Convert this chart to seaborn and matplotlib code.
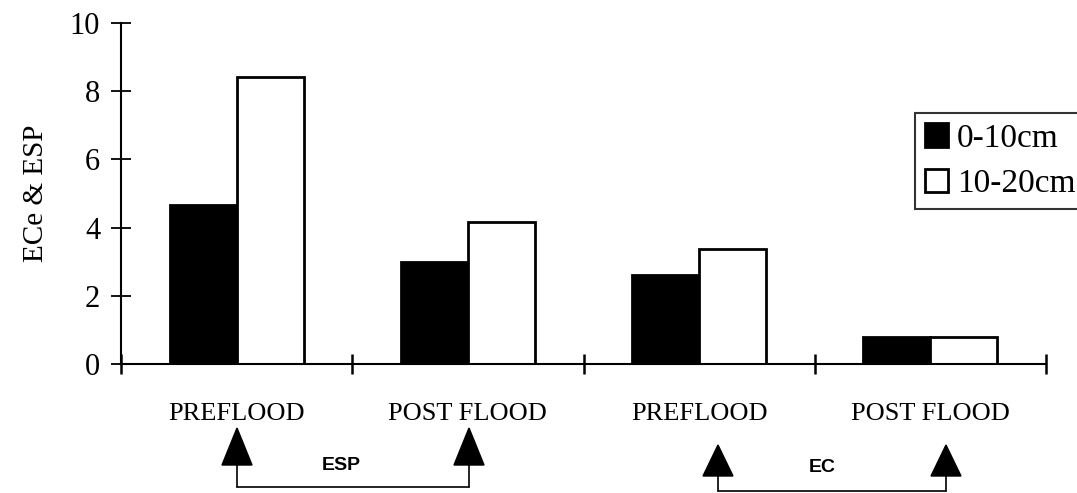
import matplotlib
matplotlib.use("Agg")
import matplotlib.pyplot as plt
import seaborn as sns
import pandas as pd
from matplotlib.patches import Polygon
from matplotlib.lines import Line2D

# ---- data ----
groups = ["ESP-PRE", "ESP-POST", "EC-PRE", "EC-POST"]
tick_labels = ["PREFLOOD", "POST FLOOD", "PREFLOOD", "POST FLOOD"]
depths = ["0-10cm", "10-20cm"]
vals_0_10 = [4.65, 3.0, 2.6, 0.78]
vals_10_20 = [8.42, 4.17, 3.37, 0.79]
y_ticks = [0, 2, 4, 6, 8, 10]

df = pd.DataFrame({
    "group": groups * 2,
    "depth": [depths[0]] * 4 + [depths[1]] * 4,
    "value": vals_0_10 + vals_10_20,
})

sns.set_theme(style="white")
plt.rcParams["font.family"] = ["Liberation Serif", "DejaVu Serif"]
plt.rcParams["text.color"] = "black"
plt.rcParams["axes.labelcolor"] = "black"
plt.rcParams["xtick.color"] = "black"
plt.rcParams["ytick.color"] = "black"

W, H = 1077, 493
fig = plt.figure(figsize=(W / 100, H / 100), dpi=100)
ax = fig.add_axes([121 / W, 1 - 364 / H, (1046 - 121) / W, (364 - 23) / H])

sns.barplot(data=df, x="group", y="value", hue="depth", order=groups,
            hue_order=depths, palette={"0-10cm": "black", "10-20cm": "white"},
            edgecolor="black", linewidth=2.0, width=0.58, ax=ax, saturation=1)

ax.set_xlim(-0.5, 3.5)
ax.set_ylim(0, 10)
ax.set_yticks(y_ticks)
ax.set_yticklabels([str(t) for t in y_ticks], fontsize=22)
ax.set_xticks(range(len(groups)))
ax.set_xticklabels(tick_labels, fontsize=19)
ax.set_xticks([-0.5, 0.5, 1.5, 2.5, 3.5], minor=True)
ax.tick_params(axis="x", which="both", bottom=True)
ax.tick_params(axis="y", which="both", left=True)
ax.tick_params(axis="x", which="major", length=0, pad=28)
ax.tick_params(axis="x", which="minor", length=14, width=1.8, direction="inout")
ax.tick_params(axis="y", which="major", length=14, width=1.3, direction="inout", pad=8)
ax.set_xlabel("")
ax.set_ylabel("ECe & ESP", fontsize=21, labelpad=15)

for s in ["top", "right"]:
    ax.spines[s].set_visible(False)
for s in ["left", "bottom"]:
    ax.spines[s].set_color("black")
    ax.spines[s].set_linewidth(1.5)

# legend
handles, labels = ax.get_legend_handles_labels()
ax.get_legend().remove()
leg = fig.legend(handles, labels, loc="upper left",
                 bbox_to_anchor=(915 / W, 1 - 113 / H), bbox_transform=fig.transFigure,
                 fontsize=24, frameon=True, fancybox=False, handlelength=0.7,
                 handleheight=0.7, handletextpad=0.25, labelspacing=0.45,
                 borderpad=0.3, borderaxespad=0)
leg.get_frame().set_edgecolor("black")
leg.get_frame().set_linewidth(1.5)
for h in leg.legend_handles:
    h.set_edgecolor("black")
    h.set_linewidth(2)

# annotation arrows under the axis (figure pixel coordinates)
def px(x, y):
    return (x / W, 1 - y / H)

def arrow(x, apex, base, bottom):
    tri = Polygon([px(x - 15, base), px(x + 15, base), px(x, apex)], closed=True,
                  transform=fig.transFigure, facecolor="black", edgecolor="black",
                  clip_on=False)
    fig.add_artist(tri)
    fig.add_artist(Line2D([x / W, x / W], [1 - base / H, 1 - bottom / H],
                          transform=fig.transFigure, color="black", lw=1.2))

for xa in (237, 469):
    arrow(xa, 428, 465, 487)
fig.add_artist(Line2D([237 / W, 469 / W], [1 - 487 / H] * 2,
                      transform=fig.transFigure, color="black", lw=1.2))
fig.text(341 / W, 1 - 465 / H, "ESP", ha="center", va="center", fontsize=14,
         fontweight="bold", family=["Liberation Sans", "DejaVu Sans"])

for xa in (718, 946):
    arrow(xa, 445, 476, 491)
fig.add_artist(Line2D([718 / W, 946 / W], [1 - 491 / H] * 2,
                      transform=fig.transFigure, color="black", lw=1.2))
fig.text(822 / W, 1 - 468 / H, "EC", ha="center", va="center", fontsize=14,
         fontweight="bold", family=["Liberation Sans", "DejaVu Sans"])

fig.savefig("out.png", dpi=100)
